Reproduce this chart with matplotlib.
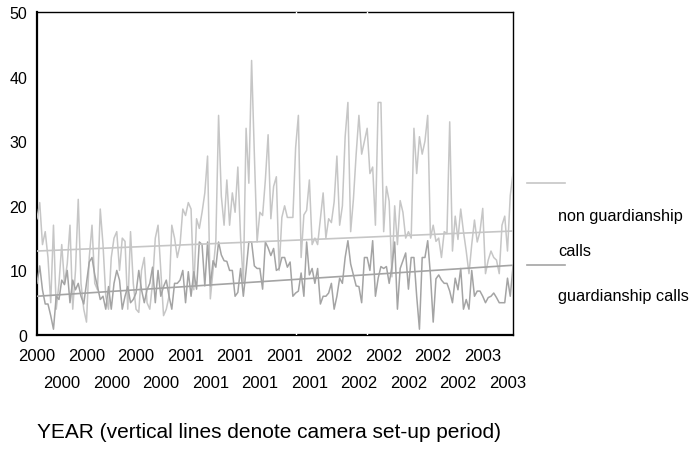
import numpy as np
import matplotlib
matplotlib.use('Agg')
import matplotlib.pyplot as plt
from matplotlib.lines import Line2D

plt.rcParams['font.family'] = ['Liberation Sans', 'DejaVu Sans']

# weekly call counts
non_guardianship = [
    18, 20.5, 14, 16, 12, 5, 17, 4, 8, 14, 8, 11, 17, 4, 10, 21, 8, 4, 2, 12,
    17, 8, 7, 19.5, 14, 6, 4, 12, 15, 16, 10, 15, 14.5, 4, 16, 8, 4, 3.5, 10, 12,
    5, 4, 8, 15, 17, 10, 3, 4, 6, 17, 15, 12, 14, 19.5, 18.5, 20.5, 19.5, 7, 18, 16.5,
    19, 22, 27.7, 5.6, 10, 14.5, 34, 21.5, 17, 24, 17, 22, 19, 26, 15, 8, 32, 23.5, 42.5, 28,
    14.4, 19, 18.5, 24, 31, 18, 23, 24.5, 10, 18.2, 20, 18.2, 18.2, 18.2, 29, 34, 12, 18.6, 19.3, 24,
    14, 15, 14, 18, 22, 15, 18, 17.4, 20.6, 27.7, 17, 20, 30.7, 36, 16, 21, 28, 34, 28, 30,
    32, 25, 26, 17, 36, 36, 16, 23, 20.7, 9, 20, 14, 20.8, 19, 15, 16, 15, 32, 25, 30.7,
    28, 30, 34, 15, 17, 14.5, 15, 12, 16, 15.7, 33, 13, 18.4, 14.8, 19.5, 16, 13, 9.5, 14, 17.8,
    14.4, 16, 19.6, 9.5, 11.6, 13, 12, 11.6, 9.5, 17, 18.4, 13, 21.6, 25,
]
guardianship = [
    8, 10.7, 7, 4.8, 4.8, 3, 0.9, 6, 5.5, 8.5, 7.8, 10, 5, 8.5, 7, 8, 6, 4.8, 8, 11.3,
    12, 9.3, 7.5, 5.5, 6, 4, 7.5, 4, 8, 10, 8.5, 4, 6, 7.5, 5, 5.5, 6.5, 10, 7, 5,
    7, 8, 10.5, 5, 10, 6, 7.5, 8.5, 6, 4, 8, 8, 8.5, 10, 5, 9.8, 6, 9.8, 7.1, 14.4,
    14, 7.6, 14.4, 7.6, 11.5, 10.5, 14.4, 12.4, 11.5, 11.4, 10, 10, 6, 6.6, 10.3, 6, 10, 14.4, 14.4, 10.7,
    10.3, 10.3, 7.1, 14.4, 13.5, 12.3, 13.4, 10, 10.3, 12, 12, 10.5, 11.3, 6, 6.5, 6.8, 9.6, 6, 14.4, 9.3,
    10.3, 8, 10.3, 4.8, 6, 6, 6.5, 8, 4, 6, 8.8, 8, 12, 14.6, 11, 9.3, 7.6, 7.5, 5, 12,
    12, 10, 14.6, 6, 8.8, 10.6, 10.3, 10.6, 8, 10.6, 14.4, 4, 10.3, 11.5, 12.7, 7.1, 12, 12, 6, 0.9,
    12, 12, 14.6, 9.3, 2, 8.7, 9.3, 8.5, 8, 8, 6.8, 5, 8.8, 7, 10.3, 4, 5.5, 4, 10, 6,
    6.8, 6.8, 6, 5, 5.8, 6, 6.5, 5.8, 5, 5, 5, 8.8, 6, 10.6,
]
# linear trend end values
trend_non = [13.0, 16.1]
trend_guard = [6.0, 10.8]

tick_years = ['2000'] * 6 + ['2001'] * 6 + ['2002'] * 6 + ['2003'] * 2
camera_weeks = [94, 120]

light = '#c6c6c6'
dark = '#a4a4a4'

fig = plt.figure(figsize=(6.91, 4.52), dpi=100)
ax = fig.add_axes([0.0535, 0.2566, 0.6889, 0.7146])

weeks = np.arange(len(non_guardianship))
# camera set-up lines: white, only show where they cut the frame
for w in camera_weeks:
    ax.axvline(w, color='white', lw=1, zorder=2.7)

ax.plot(weeks, non_guardianship, color=light, lw=1.1, zorder=3)
ax.plot(weeks, guardianship, color=dark, lw=1.1, zorder=3)
ax.plot([weeks[0], weeks[-1]], trend_non, color=light, lw=1.2, zorder=3.5)
ax.plot([weeks[0], weeks[-1]], trend_guard, color=dark, lw=1.2, zorder=3.5)

ax.set_xlim(0, len(weeks) - 1)
ax.set_ylim(0, 50)
ax.set_yticks([0, 10, 20, 30, 40, 50])
ax.tick_params(axis='y', length=0, pad=7, labelsize=11.5)

# staggered year labels, two rows
major = [9 * k for k in range(0, 20, 2)]
minor = [9 * k for k in range(1, 20, 2)]
ax.set_xticks(major)
ax.set_xticklabels(tick_years[0::2])
ax.set_xticks(minor, minor=True)
ax.set_xticklabels(tick_years[1::2], minor=True)
ax.tick_params(axis='x', which='major', length=0, pad=9, labelsize=12)
ax.tick_params(axis='x', which='minor', length=0, pad=29, labelsize=12)

for s in ['left', 'bottom']:
    ax.spines[s].set_linewidth(1.6)
for s in ['top', 'right']:
    ax.spines[s].set_linewidth(1.0)

fig.text(37 / 691, 1 - 433 / 452, 'YEAR (vertical lines denote camera set-up period)',
         fontsize=15, va='center', ha='left')

# legend drawn by hand
fig.add_artist(Line2D([527 / 691, 565 / 691], [1 - 184 / 452] * 2, color=light, lw=1.2))
fig.add_artist(Line2D([527 / 691, 565 / 691], [1 - 266 / 452] * 2, color=dark, lw=1.2))
fig.text(558 / 691, 1 - 217 / 452, 'non guardianship', fontsize=11.7, va='center')
fig.text(558 / 691, 1 - 252 / 452, 'calls', fontsize=11.7, va='center')
fig.text(558 / 691, 1 - 297 / 452, 'guardianship calls', fontsize=11.7, va='center')

fig.savefig('out.png', dpi=100)
